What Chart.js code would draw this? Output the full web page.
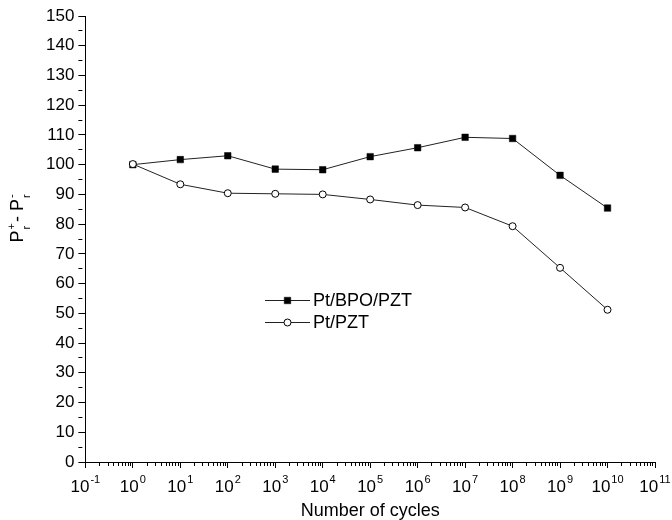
<!DOCTYPE html>
<html>
<head>
<meta charset="utf-8">
<script src="https://cdn.jsdelivr.net/npm/chart.js@4.4.0/dist/chart.umd.min.js"></script>
<style>
    html, body { margin: 0; padding: 0; background: #fff; }
    #wrap { width: 672px; height: 520px; }
</style>
</head>
<body>
<div id="wrap"><canvas id="fatigue-chart"></canvas></div>
<script>
    "use strict";

    // Data
    var cycles = [1, 1e1, 1e2, 1e3, 1e4, 1e5, 1e6, 1e7, 1e8, 1e9, 1e10];
    var bpoValues = [100, 101.7, 103, 98.5, 98.3, 102.7, 105.7, 109.2, 108.8, 96.4, 85.4];
    var pztValues = [100.2, 93.4, 90.4, 90.2, 90, 88.3, 86.4, 85.6, 79.3, 65.3, 51.2];
    var seriesNames = ["Pt/BPO/PZT", "Pt/PZT"];
    var xDecades = [-1, 0, 1, 2, 3, 4, 5, 6, 7, 8, 9, 10, 11];
    var xTickBase = "10";
    var xTickExponents = ["-1", "0", "1", "2", "3", "4", "5", "6", "7", "8", "9", "10", "11"];

    var FONT = "'Liberation Sans', Arial, sans-serif";

    // log axis ticks: every 1..9 x 10^n, labels only on the decades
    var xTickValues = [];
    var xMajor = [];
    xDecades.forEach(function (e, i) {
        var last = i === xDecades.length - 1;
        for (var m = 1; m <= (last ? 1 : 9); m++) {
            xTickValues.push(m * Math.pow(10, e));
            xMajor.push(m === 1 ? i : -1);
        }
    });

    function points(values) {
        return cycles.map(function (c, i) { return {x: c, y: values[i]}; });
    }

    // decade labels 10^n with a raised exponent
    var xLabelPlugin = {
        id: "xLabels",
        afterDraw: function (chart) {
            var ctx = chart.ctx;
            var scale = chart.scales.x;
            var big = "17px " + FONT, small = "11px " + FONT;
            var baseY = scale.top + 30;
            ctx.save();
            ctx.fillStyle = "#000";
            ctx.textBaseline = "alphabetic";
            ctx.textAlign = "left";
            xDecades.forEach(function (e, i) {
                var px = scale.getPixelForValue(Math.pow(10, e));
                ctx.font = big;
                var wb = ctx.measureText(xTickBase).width;
                ctx.font = small;
                var we = ctx.measureText(xTickExponents[i]).width;
                var x = px - (wb + 1 + we) / 2;
                ctx.font = big;
                ctx.fillText(xTickBase, x, baseY);
                ctx.font = small;
                ctx.fillText(xTickExponents[i], x + wb + 1, baseY - 9);
            });
            ctx.restore();
        }
    };

    // y title with sub/superscripts: P_r^+ - P_r^-
    var yTitlePlugin = {
        id: "yTitle",
        afterDraw: function (chart) {
            var ctx = chart.ctx;
            var big = "18px " + FONT, small = "11px " + FONT;
            var parts = [
                {t: "P", f: big},
                {t: "+", f: small, sub: "r"},
                {t: "- P", f: big},
                {t: "-", f: small, sub: "r"}
            ];
            ctx.save();
            var total = 0;
            parts.forEach(function (p) {
                ctx.font = p.f;
                var w = ctx.measureText(p.t).width;
                if (p.sub) { w = Math.max(w, ctx.measureText(p.sub).width); }
                p.w = w + 1;
                total += p.w;
            });
            ctx.translate(23, 218);
            ctx.rotate(-Math.PI / 2);
            ctx.fillStyle = "#000";
            ctx.textBaseline = "alphabetic";
            var x = -total / 2;
            parts.forEach(function (p) {
                ctx.font = p.f;
                if (p.sub) {
                    ctx.fillText(p.t, x, -8);
                    ctx.fillText(p.sub, x, 7);
                } else {
                    ctx.fillText(p.t, x, 0);
                }
                x += p.w;
            });
            ctx.restore();
        }
    };

    // legend sitting inside the plot
    var innerLegend = {
        id: "innerLegend",
        afterDatasetsDraw: function (chart) {
            var ctx = chart.ctx;
            var x0 = 265, x1 = 310, rows = [300, 322];
            ctx.save();
            chart.data.datasets.forEach(function (ds, i) {
                var y = rows[i] + 0.5;
                var cx = (x0 + x1) / 2;
                ctx.strokeStyle = ds.borderColor;
                ctx.lineWidth = 1;
                ctx.beginPath();
                ctx.moveTo(x0, y);
                ctx.lineTo(x1, y);
                ctx.stroke();
                ctx.fillStyle = ds.pointBackgroundColor;
                ctx.strokeStyle = ds.pointBorderColor;
                ctx.lineWidth = ds.pointBorderWidth;
                ctx.beginPath();
                if (ds.pointStyle === "rect") {
                    var s = ds.pointRadius * Math.SQRT1_2;
                    ctx.rect(cx - s, y - s, 2 * s, 2 * s);
                } else {
                    ctx.arc(cx, y, ds.pointRadius, 0, Math.PI * 2);
                }
                ctx.fill();
                ctx.stroke();
                ctx.fillStyle = "#000";
                ctx.font = "18px " + FONT;
                ctx.textBaseline = "middle";
                ctx.fillText(ds.label, x1 + 3, y + 1);
            });
            ctx.restore();
        }
    };

    var ctx1 = document.getElementById("fatigue-chart").getContext("2d");
    var myChart1 = new Chart(ctx1, {
        type: "line",
        data: {
            datasets: [{
                    label: seriesNames[0],
                    data: points(bpoValues),
                    borderColor: "#222",
                    borderWidth: 1,
                    pointStyle: "rect",
                    pointRadius: 4.6,
                    pointBorderWidth: 0.5,
                    pointBackgroundColor: "#000",
                    pointBorderColor: "#000",
                    order: 1
                },
                {
                    label: seriesNames[1],
                    data: points(pztValues),
                    borderColor: "#222",
                    borderWidth: 1,
                    pointStyle: "circle",
                    pointRadius: 3.5,
                    pointBorderWidth: 1,
                    pointBackgroundColor: "#fff",
                    pointBorderColor: "#000",
                    order: 0
                }
            ]
        },
        options: {
            responsive: true,
            maintainAspectRatio: false,
            animation: false,
            layout: {padding: {left: 42, right: 17, top: 16, bottom: 0}},
            plugins: {
                legend: {display: false},
                tooltip: {enabled: false}
            },
            scales: {
                x: {
                    type: "logarithmic",
                    min: 0.1,
                    max: 1e11,
                    afterBuildTicks: function (scale) {
                        scale.ticks = xTickValues.map(function (v) { return {value: v}; });
                    },
                    ticks: {
                        autoSkip: false,
                        maxRotation: 0,
                        padding: 2,
                        color: "#000",
                        font: {family: FONT, size: 17},
                        callback: function () { return ""; }
                    },
                    grid: {
                        drawOnChartArea: false,
                        tickLength: 6,
                        tickColor: "#000",
                        tickBorderDash: function (c) { return xMajor[c.index] >= 0 ? [] : [3, 50]; }
                    },
                    border: {color: "#000", width: 1},
                    title: {
                        display: true,
                        text: "Number of cycles",
                        color: "#000",
                        font: {family: FONT, size: 18, lineHeight: 1},
                        padding: {top: 9.6, bottom: 0}
                    }
                },
                y: {
                    min: 0,
                    max: 150,
                    ticks: {
                        stepSize: 5,
                        autoSkip: false,
                        padding: 4,
                        color: "#000",
                        font: {family: FONT, size: 17},
                        callback: function (v) { return v % 10 === 0 ? v : ""; }
                    },
                    grid: {
                        drawOnChartArea: false,
                        tickLength: 7,
                        tickColor: "#000",
                        tickBorderDash: function (c) { return c.tick && c.tick.value % 10 !== 0 ? [4, 50] : []; }
                    },
                    border: {color: "#000", width: 1}
                }
            }
        },
        plugins: [xLabelPlugin, yTitlePlugin, innerLegend]
    });
</script>
</body>
</html>
